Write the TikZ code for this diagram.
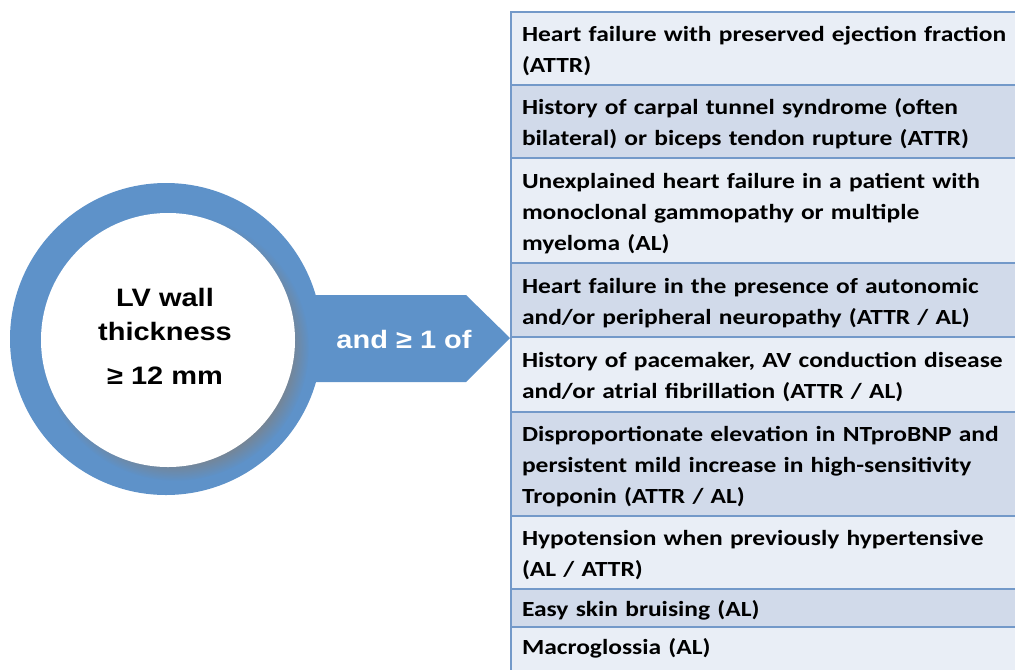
\documentclass[tikz,border=0pt]{standalone}
\usepackage{fontspec}
\setmainfont{Carlito}[FakeStretch=1.18]
\newfontfamily\arialfont{Liberation Sans}[FakeStretch=1.15]
\usetikzlibrary{positioning, shapes, shadows}

\definecolor{ringblue}{HTML}{5E92C9}
\definecolor{rowline}{HTML}{7399C9}
\definecolor{rowlight}{HTML}{E9EEF6}
\definecolor{rowdark}{HTML}{D1DAEA}

\begin{document}
\begin{tikzpicture}[x=0.5pt, y=-0.5pt, node distance=0pt]
  \tikzstyle{row}=[draw=rowline, line width=0.75pt, outer sep=0pt, anchor=north west, text width=259pt, inner xsep=5.5pt, inner ysep=0pt, align=left,
                   font=\bfseries\fontsize{10.8}{15.5}\selectfont,
                   execute at begin node={\rule{0pt}{11.5pt}}, execute at end node={\rule[-3pt]{0pt}{3pt}}];
  \tikzstyle{light}=[row, fill=rowlight];
  \tikzstyle{dark}=[row, fill=rowdark];
  \tikzstyle{bigtext}=[font=\arialfont\bfseries\fontsize{12.6}{17}\selectfont, align=center];
  \useasboundingbox (0,0) rectangle (1015,669);

  % arrow and circle
  \fill [ringblue] (290,295) -- (466,295) -- (510,338) -- (466,382) -- (290,382) -- cycle;
  \node [text=white, bigtext] (Arrow) at (404,339) {and ≥ 1 of};
  \node [circle, fill=ringblue, minimum size=156pt] (Ring) at (166,339) {};
  \node [circle, fill=white, minimum size=127pt,
         circular drop shadow={shadow xshift=3.5pt, shadow yshift=-3.5pt, shadow scale=1.05, opacity=0.8}] (Wall) at (168,340) {};
  \node [bigtext] (WallText) at (165,336) {LV wall\\thickness\\[5pt]≥ 12 mm};

  % list of red flags
  \node [light, minimum height=36.5pt] at (511,12) (HFpEF) {Heart failure with preserved ejection fraction\\(ATTR)};
  \node [dark, minimum height=36.5pt, below=of HFpEF] (Carpal) {History of carpal tunnel syndrome (often\\bilateral) or biceps tendon rupture (ATTR)};
  \node [light, minimum height=52.5pt, below=of Carpal] (Myeloma) {Unexplained heart failure in a patient with\\monoclonal gammopathy or multiple\\myeloma (AL)};
  \node [dark, minimum height=37pt, below=of Myeloma] (Neuropathy) {Heart failure in the presence of autonomic\\and/or peripheral neuropathy (ATTR / AL)};
  \node [light, minimum height=37.5pt, below=of Neuropathy] (Pacemaker) {History of pacemaker, AV conduction disease\\and/or atrial fibrillation (ATTR / AL)};
  \node [dark, minimum height=52pt, below=of Pacemaker] (Troponin) {Disproportionate elevation in NTproBNP and\\persistent mild increase in high-sensitivity\\Troponin (ATTR / AL)};
  \node [light, minimum height=36.5pt, below=of Troponin] (Hypotension) {Hypotension when previously hypertensive\\(AL / ATTR)};
  \node [dark, minimum height=19pt, below=of Hypotension] (Bruising) {Easy skin bruising (AL)};
  \node [light, minimum height=26pt, below=of Bruising] (Macroglossia) {Macroglossia (AL)\rule[-10pt]{0pt}{10pt}};
\end{tikzpicture}
\end{document}
